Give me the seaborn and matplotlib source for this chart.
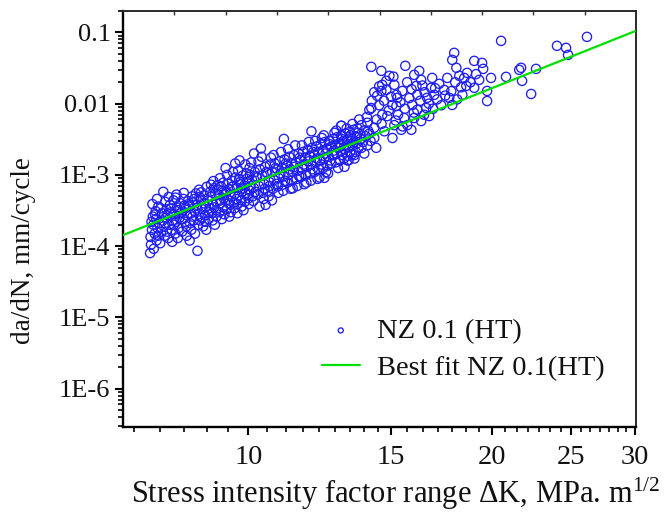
import matplotlib
matplotlib.use("Agg")
import numpy as np
import pandas as pd
import seaborn as sns
import matplotlib.pyplot as plt
from matplotlib.ticker import FixedLocator, FixedFormatter, LogLocator, NullFormatter

# ---- crack growth data: stress intensity factor range (MPa m^1/2) vs da/dN (mm/cycle) ----
dk_near = [7.56, 7.58, 7.57, 7.60, 7.59, 7.62, 7.64, 7.66, 7.63, 7.68,
           7.70, 7.72, 7.69, 7.74, 7.71, 7.78, 7.80, 7.76, 7.82, 7.85,
           7.88, 7.86, 7.90, 7.92, 7.89, 7.96, 7.98, 7.95, 8.00,
           8.04, 8.06, 8.02, 8.08, 8.05, 8.12, 8.14, 8.10, 8.16, 8.13,
           8.20, 8.22, 8.19, 8.24, 8.28, 8.30, 8.27, 8.33, 8.31,
           8.38, 8.40, 8.36, 8.42, 8.39, 8.47, 8.49, 8.45, 8.52, 8.50,
           8.56, 8.58, 8.55, 8.61, 8.59, 8.65,
           8.66, 8.68, 8.64, 8.70, 8.69, 8.75, 8.77, 8.73, 8.79,
           8.84, 8.86, 8.82, 8.88, 8.85, 8.93, 8.95, 8.91, 8.97,
           9.02, 9.04, 9.00, 9.06, 9.03, 9.05, 9.12, 9.14, 9.10, 9.16, 9.13,
           9.21, 9.23, 9.19, 9.25, 9.22, 9.30, 9.32, 9.28, 9.34, 9.31,
           9.40, 9.42, 9.38, 9.44, 9.41, 9.50, 9.52, 9.48, 9.54, 9.51,
           9.60, 9.62, 9.58, 9.64, 9.61, 9.63, 9.70, 9.72, 9.68, 9.74, 9.71, 9.75,
           9.80, 9.82, 9.78, 9.84, 9.81, 9.90, 9.92, 9.88, 9.94, 9.91,
           10.00, 10.02, 9.98, 10.04, 10.01, 10.03]
rate_near = [8.0e-5, 1.05e-4, 1.35e-4, 1.7e-4, 2.2e-4, 2.6e-4, 9.2e-5, 1.5e-4, 2.0e-4, 3.1e-4,
             1.2e-4, 1.8e-4, 2.4e-4, 3.6e-4, 4.6e-4, 1.1e-4, 1.6e-4, 2.1e-4, 2.9e-4, 5.8e-4,
             1.4e-4, 1.9e-4, 2.5e-4, 3.3e-4, 4.2e-4, 1.3e-4, 2.0e-4, 2.7e-4, 3.8e-4,
             1.7e-4, 2.3e-4, 3.0e-4, 4.4e-4, 1.15e-4, 1.5e-4, 2.2e-4, 2.8e-4, 3.5e-4, 4.8e-4,
             1.8e-4, 2.5e-4, 3.2e-4, 4.0e-4, 1.6e-4, 2.4e-4, 3.0e-4, 3.7e-4, 4.6e-4,
             1.9e-4, 2.7e-4, 3.4e-4, 4.3e-4, 1.4e-4, 2.1e-4, 2.9e-4, 3.6e-4, 5.0e-4, 1.7e-4,
             2.3e-4, 3.1e-4, 4.1e-4, 5.5e-4, 1.5e-4, 8.6e-5,
             2.0e-4, 2.8e-4, 3.8e-4, 4.9e-4, 6.2e-4, 2.5e-4, 3.3e-4, 4.5e-4, 1.9e-4,
             2.7e-4, 3.6e-4, 5.2e-4, 6.8e-4, 2.2e-4, 2.4e-4, 3.4e-4, 4.4e-4, 5.8e-4,
             2.9e-4, 3.9e-4, 5.0e-4, 6.5e-4, 2.3e-4, 8.2e-4, 3.2e-4, 4.2e-4, 5.5e-4, 7.2e-4, 2.6e-4,
             3.0e-4, 4.0e-4, 5.3e-4, 6.9e-4, 9.0e-4, 3.5e-4, 4.7e-4, 6.0e-4, 2.8e-4, 7.8e-4,
             3.3e-4, 4.5e-4, 5.7e-4, 7.5e-4, 1.0e-3, 3.8e-4, 5.0e-4, 6.3e-4, 8.3e-4, 3.0e-4,
             4.1e-4, 5.4e-4, 7.0e-4, 9.2e-4, 3.4e-4, 1.45e-3, 3.9e-4, 5.1e-4, 6.6e-4, 8.6e-4, 1.15e-3, 1.6e-3,
             4.4e-4, 5.8e-4, 7.4e-4, 9.8e-4, 3.6e-4, 4.2e-4, 5.5e-4, 7.1e-4, 1.05e-3, 1.4e-3,
             4.7e-4, 6.1e-4, 7.9e-4, 1.0e-3, 3.9e-4, 1.25e-3]

dk_mid = [10.12, 10.15, 10.10, 10.18, 10.14, 10.16, 10.27, 10.30, 10.25, 10.33, 10.29, 10.36,
          10.42, 10.45, 10.40, 10.48, 10.50, 10.44, 10.57, 10.60, 10.55, 10.63, 10.59,
          10.72, 10.75, 10.70, 10.78, 10.74, 10.87, 10.90, 10.85, 10.93, 10.89,
          11.02, 11.05, 11.00, 11.08, 11.04, 11.06, 11.17, 11.20, 11.15, 11.23, 11.19,
          11.32, 11.35, 11.30, 11.38, 11.34, 11.47, 11.50, 11.45, 11.53, 11.49,
          11.62, 11.65, 11.60, 11.68, 11.64, 11.77, 11.80, 11.75, 11.83, 11.79,
          11.92, 11.95, 11.90, 11.98, 11.94, 11.96, 12.07, 12.10, 12.05, 12.13, 12.09,
          12.22, 12.25, 12.20, 12.28, 12.24, 12.37, 12.40, 12.35, 12.43, 12.39, 12.41,
          12.52, 12.55, 12.50, 12.58, 12.54, 12.67, 12.70, 12.65, 12.73,
          12.82, 12.85, 12.80, 12.88, 12.84, 12.97, 13.00, 12.95, 13.03, 13.02,
          13.12, 13.15, 13.10, 13.18, 13.14, 13.27, 13.30, 13.25, 13.33, 13.29,
          13.42, 13.45, 13.40, 13.48, 13.44, 13.57, 13.60, 13.55, 13.63]
rate_mid = [5.0e-4, 6.6e-4, 8.6e-4, 1.1e-3, 4.3e-4, 2.0e-3, 5.3e-4, 7.0e-4, 9.2e-4, 1.2e-3, 1.55e-3, 2.35e-3,
            5.6e-4, 7.5e-4, 9.8e-4, 1.3e-3, 3.8e-4, 4.6e-4, 6.0e-4, 8.0e-4, 1.05e-3, 1.4e-3, 5.0e-4,
            6.4e-4, 8.5e-4, 1.1e-3, 1.45e-3, 1.9e-3, 6.9e-4, 9.0e-4, 1.2e-3, 1.55e-3, 5.6e-4,
            7.3e-4, 9.6e-4, 1.25e-3, 1.65e-3, 6.0e-4, 3.2e-3, 7.8e-4, 1.0e-3, 1.35e-3, 1.8e-3, 2.3e-3,
            8.3e-4, 1.1e-3, 1.45e-3, 1.9e-3, 6.5e-4, 8.8e-4, 1.15e-3, 1.5e-3, 2.0e-3, 7.0e-4,
            9.4e-4, 1.25e-3, 1.6e-3, 2.1e-3, 2.6e-3, 1.0e-3, 1.3e-3, 1.75e-3, 2.25e-3, 7.8e-4,
            1.05e-3, 1.4e-3, 1.85e-3, 2.4e-3, 8.3e-4, 4.1e-3, 1.1e-3, 1.5e-3, 1.95e-3, 2.5e-3, 3.0e-3,
            1.2e-3, 1.6e-3, 2.1e-3, 2.7e-3, 9.2e-4, 1.25e-3, 1.7e-3, 2.2e-3, 2.9e-3, 3.6e-3, 9.1e-4,
            1.35e-3, 1.8e-3, 2.35e-3, 3.0e-3, 1.05e-3, 1.45e-3, 1.9e-3, 2.5e-3, 3.2e-3,
            1.5e-3, 2.0e-3, 2.65e-3, 3.4e-3, 4.2e-3, 1.6e-3, 2.15e-3, 2.8e-3, 3.6e-3, 4.9e-3,
            1.7e-3, 2.3e-3, 3.0e-3, 3.8e-3, 1.3e-3, 1.85e-3, 2.45e-3, 3.15e-3, 4.0e-3, 1.6e-3,
            1.95e-3, 2.6e-3, 3.3e-3, 4.3e-3, 5.2e-3, 2.1e-3, 2.75e-3, 3.5e-3, 4.5e-3]

dk_extra = [7.61, 7.67, 7.73, 7.79, 7.84, 7.93, 7.97, 8.03, 8.09, 8.15,
            8.18, 8.25, 8.32, 8.35, 8.43, 8.46, 8.53, 8.57, 8.63, 8.71,
            8.74, 8.81, 8.87, 8.94, 8.99, 9.07, 9.09, 9.17, 9.24, 9.27,
            9.35, 9.37, 9.45, 9.47, 9.55, 9.57, 9.66, 9.69, 9.77, 9.83,
            9.86, 9.95, 9.97, 10.06, 10.08, 10.20, 10.22, 10.32, 10.38, 10.47,
            10.52, 10.62, 10.66, 10.69, 10.80, 10.83, 10.95, 10.97, 11.10, 11.12,
            11.25, 11.27, 11.40, 11.42, 11.55, 11.57, 11.70, 11.72, 11.85, 11.87,
            12.00, 12.02, 12.15, 12.17, 12.30, 12.32, 12.45, 12.47, 12.60, 12.62,
            12.75, 12.77, 12.90, 12.92, 13.05, 13.07, 13.20, 13.22, 13.35, 13.37,
            13.50, 13.52, 13.65, 13.67, 13.75, 13.85, 13.95, 14.05, 14.15]
rate_extra = [3.9e-4, 2.8e-4, 1.4e-4, 3.4e-4, 2.3e-4, 1.6e-4, 4.9e-4, 3.4e-4, 2.0e-4, 5.3e-4,
              1.3e-4, 2.9e-4, 5.6e-4, 2.2e-4, 3.9e-4, 1.2e-4, 2.6e-4, 4.6e-4, 3.4e-4, 2.3e-4,
              5.7e-4, 4.0e-4, 1.7e-4, 3.0e-4, 7.3e-4, 3.5e-4, 2.0e-4, 6.2e-4, 4.4e-4, 2.4e-4,
              5.3e-4, 1.25e-3, 4.0e-4, 2.6e-4, 6.8e-4, 1.1e-3, 4.6e-4, 2.9e-4, 8.0e-4, 6.4e-4,
              3.2e-4, 8.8e-4, 5.2e-4, 7.0e-4, 1.5e-3, 5.8e-4, 9.6e-4, 3.6e-4, 1.8e-3, 6.4e-4,
              1.1e-3, 7.0e-4, 1.75e-3, 4.4e-4, 1.25e-3, 7.5e-4, 1.05e-3, 2.1e-3, 8.3e-4, 1.45e-3,
              1.2e-3, 6.4e-4, 1.3e-3, 2.6e-3, 9.6e-4, 1.75e-3, 1.4e-3, 7.4e-4, 1.55e-3, 2.9e-3,
              1.2e-3, 2.1e-3, 1.7e-3, 8.8e-4, 1.4e-3, 3.3e-3, 2.0e-3, 1.1e-3, 2.7e-3, 1.6e-3,
              2.2e-3, 3.9e-3, 1.25e-3, 2.4e-3, 3.2e-3, 1.9e-3, 2.6e-3, 4.5e-3, 2.1e-3, 3.6e-3,
              2.9e-3, 1.7e-3, 3.9e-3, 2.4e-3, 3.2e-3, 2.9e-3, 3.5e-3, 4.2e-3, 3.0e-3]

dk_high = [14.18, 14.59, 15.62, 14.93, 14.63, 14.42, 14.59, 14.80, 15.14, 15.23,
           15.49, 15.27, 15.06, 15.23, 14.18, 16.02, 16.25, 16.34, 16.12, 16.16,
           15.93, 16.86, 16.81, 16.62, 16.58, 16.96, 17.45, 17.60, 17.95, 17.85,
           18.06, 18.21, 17.70, 17.85, 18.47, 18.62, 18.58, 18.37, 19.00, 19.43,
           19.49, 19.27, 19.00, 19.93, 19.71, 19.71, 20.51, 20.80, 21.59, 21.71,
           21.77, 22.34, 22.65, 24.04, 24.67, 24.81, 26.18,
           13.02, 13.79, 14.02, 14.30, 14.63, 14.84, 15.14, 15.44, 15.71, 15.89,
           15.06, 14.38, 13.90, 13.51, 13.25, 13.79, 14.02, 13.02, 12.76, 16.48,
           16.34, 16.72, 14.10, 13.02, 13.40, 14.30, 14.72, 15.57, 16.02, 16.16,
           14.40, 14.50, 14.70, 14.90, 15.00, 15.30, 15.40, 15.60, 15.80, 15.90,
           16.00, 16.30, 16.50, 16.70, 16.90, 17.10, 17.20, 17.30, 17.50, 17.80,
           18.00, 18.10, 18.30, 18.80, 19.10, 14.20, 14.30, 14.00, 14.80, 15.10,
           13.90, 14.10, 14.60, 15.20, 15.50, 13.70, 14.50, 15.70, 16.40, 17.00]
rate_high = [0.0329, 0.0289, 0.0340, 0.0246, 0.0184, 0.0129, 0.0151, 0.0156, 0.0184, 0.0133,
             0.0151, 0.0121, 0.0096, 0.0093, 0.0087, 0.0254, 0.0289, 0.0216, 0.0178, 0.0133,
             0.0096, 0.0230, 0.0167, 0.0121, 0.0087, 0.0133, 0.0156, 0.0230, 0.0517, 0.0412,
             0.0319, 0.0246, 0.0121, 0.0096, 0.0230, 0.0271, 0.0178, 0.0133, 0.0399, 0.0374,
             0.0308, 0.0216, 0.0167, 0.0230, 0.0151, 0.0109, 0.0762, 0.0238, 0.0299, 0.0319,
             0.0209, 0.0137, 0.0308, 0.0649, 0.0608, 0.0484, 0.0867,
             0.0049, 0.0050, 0.0054, 0.0046, 0.0070, 0.0067, 0.0050, 0.0043, 0.0050, 0.0043,
             0.0033, 0.0024, 0.0020, 0.0019, 0.0016, 0.0024, 0.0026, 0.0026, 0.0019, 0.0070,
             0.0057, 0.0067, 0.0082, 0.0035, 0.0030, 0.0033, 0.0041, 0.0063, 0.0063, 0.0082,
             0.0060, 0.0095, 0.0110, 0.0080, 0.0125, 0.0070, 0.0105, 0.0085, 0.0120, 0.0160,
             0.0075, 0.0110, 0.0145, 0.0100, 0.0085, 0.0115, 0.0190, 0.0095, 0.0130, 0.0150,
             0.0200, 0.0115, 0.0170, 0.0200, 0.0260, 0.0110, 0.0145, 0.0065, 0.0210, 0.0240,
             0.0042, 0.0038, 0.0052, 0.0058, 0.0048, 0.0060, 0.0175, 0.0200, 0.0180, 0.0165]

# Paris-law best fit, drawn between its two end points
fit_dk = [7.0, 30.0]
fit_rate = [1.43e-4, 1.04e-1]

x_tick_values = [10, 15, 20, 25, 30]
y_tick_values = [1e-6, 1e-5, 1e-4, 1e-3, 1e-2, 1e-1]
y_tick_labels = ["1E-6", "1E-5", "1E-4", "1E-3", "0.01", "0.1"]

df = pd.DataFrame({
    "dk": dk_near + dk_mid + dk_extra + dk_high,
    "rate": rate_near + rate_mid + rate_extra + rate_high,
})

sns.set_theme(style="white")
plt.rcParams["font.family"] = ["Liberation Serif", "DejaVu Serif"]
plt.rcParams["mathtext.fontset"] = "custom"
plt.rcParams["mathtext.rm"] = "Liberation Serif"
plt.rcParams["mathtext.it"] = "Liberation Serif:italic"

blue = "#1f1ff0"
green = "#00e000"

fig = plt.figure(figsize=(6.7, 5.14), dpi=100)
ax = fig.add_axes([0.1836, 0.1693, 0.7657, 0.8093])
ax.set_xscale("log")
ax.set_yscale("log")

sns.scatterplot(data=df, x="dk", y="rate", ax=ax, marker="o", s=44,
                facecolors="none", edgecolors=blue, linewidths=0.95,
                label="NZ 0.1 (HT)", zorder=2)
pts = ax.collections[-1]
pts.set_facecolor("none")
pts.set_edgecolor(blue)

sns.lineplot(x=fit_dk, y=fit_rate, ax=ax, color=green, lw=1.6,
             label="Best fit NZ 0.1(HT)", zorder=3)

ax.set_xlim(7.0, 30.1)
ax.set_ylim(2.9e-7, 0.2)

# x axis: major ticks with labels, linear-spaced minor ticks between them
ax.xaxis.set_major_locator(FixedLocator(x_tick_values))
ax.xaxis.set_major_formatter(FixedFormatter([str(v) for v in x_tick_values]))
minor_x = list(np.linspace(5, 10, 10)[1:-1]) + list(np.linspace(10, 15, 10)[1:-1]) \
    + list(np.linspace(15, 20, 8)[1:-1]) + list(np.linspace(20, 25, 8)[1:-1]) \
    + list(np.linspace(25, 30, 8)[1:-1])
ax.xaxis.set_minor_locator(FixedLocator([v for v in minor_x if v > 7.05]))
ax.xaxis.set_minor_formatter(NullFormatter())

ax.yaxis.set_major_locator(FixedLocator(y_tick_values))
ax.yaxis.set_major_formatter(FixedFormatter(y_tick_labels))
ax.yaxis.set_minor_locator(LogLocator(base=10, subs=np.arange(2, 10)))
ax.yaxis.set_minor_formatter(NullFormatter())

ax.tick_params(axis="both", which="major", direction="out", length=6, width=1.5,
               color="black", labelcolor="#111111",
               bottom=True, left=True, top=False, right=False)
ax.tick_params(axis="x", which="major", labelsize=20.5, pad=7)
ax.tick_params(axis="y", which="major", labelsize=19, pad=3)
ax.tick_params(axis="both", which="minor", direction="out", length=3.5, width=1.2,
               color="black", bottom=True, left=True, top=False, right=False)

for side in ("left", "bottom"):
    ax.spines[side].set_color("black")
    ax.spines[side].set_linewidth(1.7)
for side in ("top", "right"):
    ax.spines[side].set_color("#2a2a2a")
    ax.spines[side].set_linewidth(1.4)

# evenly spaced inward ticks on the top edge
ax_top = ax.twiny()
ax_top.set_xscale("linear")
ax_top.set_xlim(0, 1)
ax_top.set_xticks(np.arange(1, 10) / 10)
ax_top.tick_params(axis="x", direction="in", length=3, width=1.0, color="#333333",
                   labeltop=False, top=True, bottom=False)
for sp in ax_top.spines.values():
    sp.set_visible(False)

ax.set_xlabel(r"Stress intensity factor range ΔK, MPa. m$^{\mathrm{1/2}}$",
              fontsize=22, color="#111111")
ax.xaxis.set_label_coords(0.532, -0.118)
ax.set_ylabel("da/dN, mm/cycle", fontsize=19.5, color="#111111")
ax.yaxis.set_label_coords(-0.170, 0.425)

leg = ax.legend(loc="upper left", bbox_to_anchor=(0.387, 0.262), frameon=False,
                fontsize=20.5, handlelength=1.35, handletextpad=0.6, labelspacing=0.39,
                borderaxespad=0, borderpad=0, markerscale=0.55)
for t in leg.get_texts():
    t.set_color("#111111")

fig.savefig("out.png", dpi=100)
